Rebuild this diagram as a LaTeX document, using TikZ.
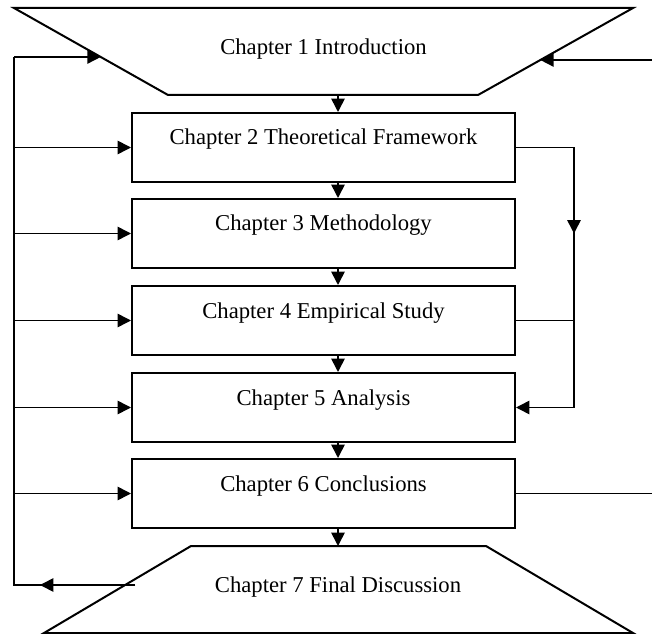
\documentclass[tikz,border=0pt]{standalone}
\usepackage{fontspec}
\setmainfont{Liberation Serif}
\usetikzlibrary{arrows.meta, calc}

\begin{document}
\begin{tikzpicture}[x=0.75pt, y=-0.75pt,
  chapbox/.style={draw, line width=1.5pt, rectangle, minimum width=287.25pt, inner xsep=0pt, inner ysep=0pt, text height=24pt, text depth=27.75pt, font=\fontsize{17}{20}\selectfont},
  traplabel/.style={font=\fontsize{17}{20}\selectfont},
  trapline/.style={line width=1.5pt, line join=miter},
  link/.style={line width=1.2pt},
  arr/.style={-{Triangle[length=10pt, width=10pt]}}]
  \useasboundingbox (0, 0) rectangle (652, 634);

  % Chapter 1 (inverted trapezoid)
  \coordinate (introTL) at (14, 8);
  \coordinate (introTR) at (633, 8);
  \coordinate (introBR) at (478, 95);
  \coordinate (introBL) at (168, 95);
  \draw[trapline] (introTL) -- (introTR) -- (introBR) -- (introBL) -- cycle;
  \node[traplabel] (intro) at (323.5, 49) {Chapter 1 Introduction};

  % Chapters 2 to 6
  \node[chapbox] (theory) at (323.5, 147.5) {Chapter 2 Theoretical Framework};
  \node[chapbox] (method) at (323.5, 233.5) {Chapter 3 Methodology};
  \node[chapbox] (empir) at (323.5, 320.5) {Chapter 4 Empirical Study};
  \node[chapbox] (analys) at (323.5, 407.5) {Chapter 5 Analysis};
  \node[chapbox] (concl) at (323.5, 493.5) {Chapter 6 Conclusions};

  % Chapter 7 (trapezoid)
  \coordinate (finalTL) at (191, 546);
  \coordinate (finalTR) at (486, 546);
  \coordinate (finalBR) at (633, 633);
  \coordinate (finalBL) at (44, 633);
  \draw[trapline] (finalTL) -- (finalTR) -- (finalBR) -- (finalBL) -- cycle;
  \node[traplabel] (final) at (338, 587) {Chapter 7 Final Discussion};

  % Helper coordinates
  \coordinate (spine) at (338, 0);
  \coordinate (loop) at (14, 57);
  \coordinate (loopend) at (135, 585);
  \coordinate (rbus) at (574, 0);
  \coordinate (edge) at (652, 60);
  \coordinate (introL) at ($(introTL)!0.563!(introBL)$);
  \coordinate (introR) at ($(introTR)!0.598!(introBR)$);

  % Main sequence
  \draw[link, arr] (spine |- introBL) -- (spine |- theory.north);
  \foreach \a/\b in {theory/method, method/empir, empir/analys, analys/concl}
    \draw[link, arr] (spine |- \a.south) -- (spine |- \b.north);
  \draw[link, arr] (spine |- concl.south) -- (spine |- finalTL);

  % Feedback loop on the left
  \draw[link] (loopend) -- (loopend -| loop) -- (loop);
  \draw[link, arr] (loopend) -- ($(loopend -| loop)+(26, 0)$);
  \draw[link, arr] (loop) -- (loop -| introL);
  \foreach \n in {theory, method, empir, analys, concl}
    \draw[link, arr] (loop |- \n.west) -- (\n.west);

  % Links on the right
  \draw[link] (theory.east) -- (theory.east -| rbus) -- (analys.east -| rbus);
  \draw[link, arr] (theory.east -| rbus) -- ($(theory.east -| rbus)+(0, 86)$);
  \draw[link, arr] (analys.east -| rbus) -- (analys.east);
  \draw[link] (empir.east) -- (empir.east -| rbus);
  \draw[link] (concl.east) -- (concl.east -| edge);
  \draw[link, arr] (edge) -- (edge -| introR);
\end{tikzpicture}
\end{document}
